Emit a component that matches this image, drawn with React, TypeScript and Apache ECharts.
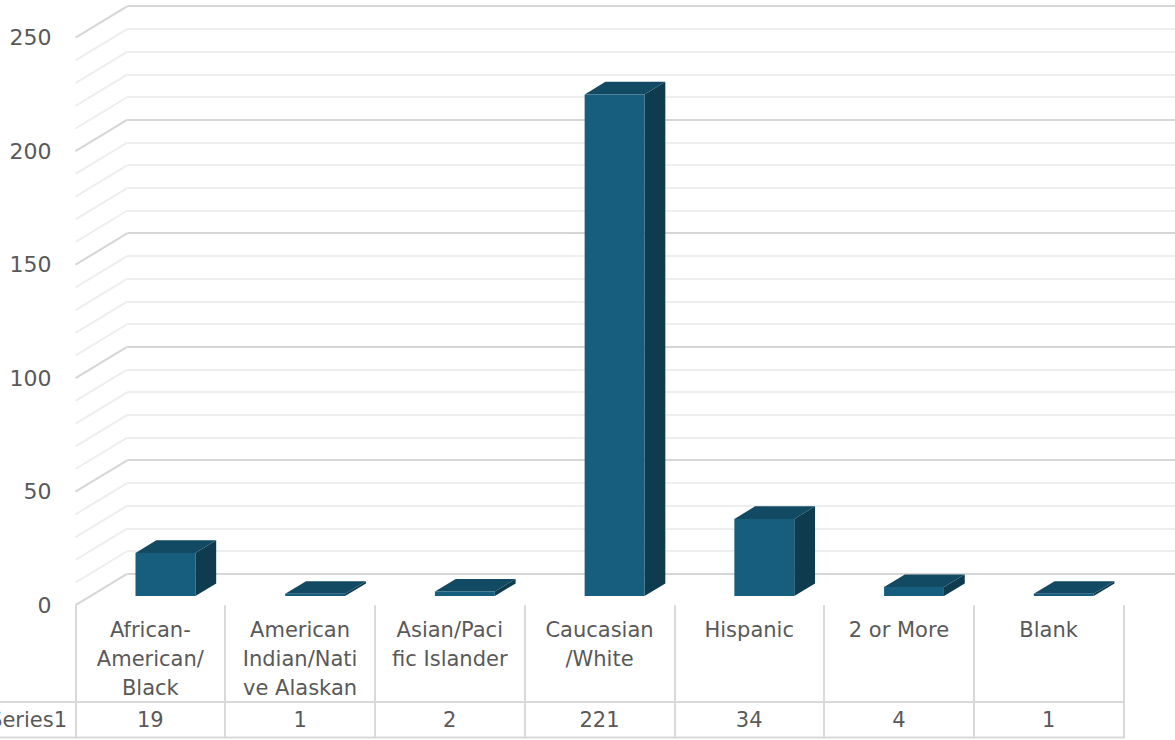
import React, { useEffect, useRef } from "react";
import * as echarts from "echarts";

const categories = [
  "African-\nAmerican/\nBlack",
  "American\nIndian/Nati\nve Alaskan",
  "Asian/Paci\nfic Islander",
  "Caucasian\n/White",
  "Hispanic",
  "2 or More",
  "Blank",
];
const seriesName = "Series1";
const values = [19, 1, 2, 221, 34, 4, 1];
const yTicks = [0, 50, 100, 150, 200, 250];

const DX = 52;
const DY = 31.5;
const D0 = 0.29;
const DD = 0.4;
const TEXT = "#595959";
const FONT = "DejaVu Sans";
const MAJOR = "#d6d6d6";
const MINOR = "#eeeeee";
const FRONT = "#175e7e";
const TOP = "#134a63";
const SIDE = "#0e3b4e";

const GL = 75.5;
const GT = 37.7;
const GW = 1048;
const GH = 567.5;

export default function App() {
  const ref = useRef<HTMLDivElement>(null);
  useEffect(() => {
    if (!ref.current) return;
    const chart = echarts.init(ref.current, null, { renderer: "svg" });
    const wallTicks: number[][] = [];
    for (let v = yTicks[0]; v <= yTicks[yTicks.length - 1]; v += 10) wallTicks.push([0, v]);

    const option = {
      animation: false,
      grid: [
        { left: GL, top: GT, width: GW, height: GH },
        { left: GL + DX, top: GT - DY, width: GW, height: GH },
      ],
      xAxis: [
        {
          type: "category",
          gridIndex: 0,
          data: categories,
          axisLine: { show: false },
          axisTick: { show: true, length: 133, lineStyle: { color: "#d9d9d9", width: 2 } },
          axisLabel: {
            interval: 0,
            margin: 10,
            color: TEXT,
            fontFamily: FONT,
            fontSize: 21,
            lineHeight: 29,
            verticalAlign: "top",
          },
        },
        { type: "category", gridIndex: 1, data: categories, show: false },
      ],
      yAxis: [
        {
          type: "value",
          gridIndex: 0,
          min: 0,
          max: 250,
          interval: 50,
          axisLine: { show: false },
          axisTick: { show: false },
          splitLine: { show: false },
          axisLabel: { margin: 24, color: TEXT, fontFamily: FONT, fontSize: 22 },
        },
        {
          type: "value",
          gridIndex: 1,
          min: 0,
          max: 250,
          interval: 10,
          axisLine: { show: false },
          axisTick: { show: false },
          axisLabel: { show: false },
          splitLine: {
            show: true,
            lineStyle: { color: [MAJOR, MINOR, MINOR, MINOR, MINOR], width: 2 },
          },
        },
      ],
      graphic: [
        {
          type: "line",
          shape: { x1: 0, y1: 702, x2: GL + GW, y2: 702 },
          style: { stroke: "#d9d9d9", lineWidth: 2 },
        },
        {
          type: "line",
          shape: { x1: 0, y1: 737.5, x2: GL + GW, y2: 737.5 },
          style: { stroke: "#d9d9d9", lineWidth: 2 },
        },
        {
          type: "text",
          x: 67,
          y: 720,
          style: {
            text: seriesName,
            fill: TEXT,
            font: `21px "${FONT}"`,
            textAlign: "right",
            textVerticalAlign: "middle",
          },
        },
      ],
      series: [
        {
          type: "custom",
          xAxisIndex: 0,
          yAxisIndex: 0,
          data: wallTicks,
          encode: { x: 0, y: 1 },
          silent: true,
          renderItem: (params: any, api: any) => {
            const v = api.value(1);
            const p = api.coord([0, v]);
            const bw = api.size([1, 0])[0];
            const x0 = p[0] - bw / 2;
            return {
              type: "line",
              shape: { x1: x0, y1: p[1], x2: x0 + DX, y2: p[1] - DY },
              style: { stroke: v % 50 === 0 ? MAJOR : MINOR, lineWidth: 2 },
            };
          },
        },
        {
          type: "custom",
          xAxisIndex: 0,
          yAxisIndex: 0,
          data: values.map((v, i) => [i, v]),
          encode: { x: 0, y: 1 },
          renderItem: (params: any, api: any) => {
            const i = api.value(0);
            const v = api.value(1);
            const top = api.coord([i, v]);
            const base = api.coord([i, 0]);
            const bw = api.size([1, 0])[0];
            const cx = top[0];
            const xL = cx - 0.2 * bw + D0 * DX;
            const xR = cx + 0.2 * bw + D0 * DX;
            const yT = top[1] - D0 * DY;
            const yB = base[1] - D0 * DY;
            const ddx = DD * DX;
            const ddy = DD * DY;
            return {
              type: "group",
              children: [
                {
                  type: "polygon",
                  shape: { points: [[xR, yT], [xR + ddx, yT - ddy], [xR + ddx, yB - ddy], [xR, yB]] },
                  style: { fill: SIDE },
                },
                {
                  type: "polygon",
                  shape: { points: [[xL, yT], [xR, yT], [xR + ddx, yT - ddy], [xL + ddx, yT - ddy]] },
                  style: { fill: TOP },
                },
                {
                  type: "rect",
                  shape: { x: xL, y: yT, width: xR - xL, height: yB - yT },
                  style: { fill: FRONT },
                },
                {
                  type: "text",
                  x: cx,
                  y: 720,
                  style: {
                    text: String(v),
                    fill: TEXT,
                    font: `21px "${FONT}"`,
                    textAlign: "center",
                    textVerticalAlign: "middle",
                  },
                },
              ],
            };
          },
        },
      ],
    };
    chart.setOption(option as any);
    return () => chart.dispose();
  }, []);
  return (
    <div
      ref={ref}
      style={{ position: "absolute", left: 0, top: 0, width: 1175, height: 740, background: "#fff" }}
    />
  );
}
